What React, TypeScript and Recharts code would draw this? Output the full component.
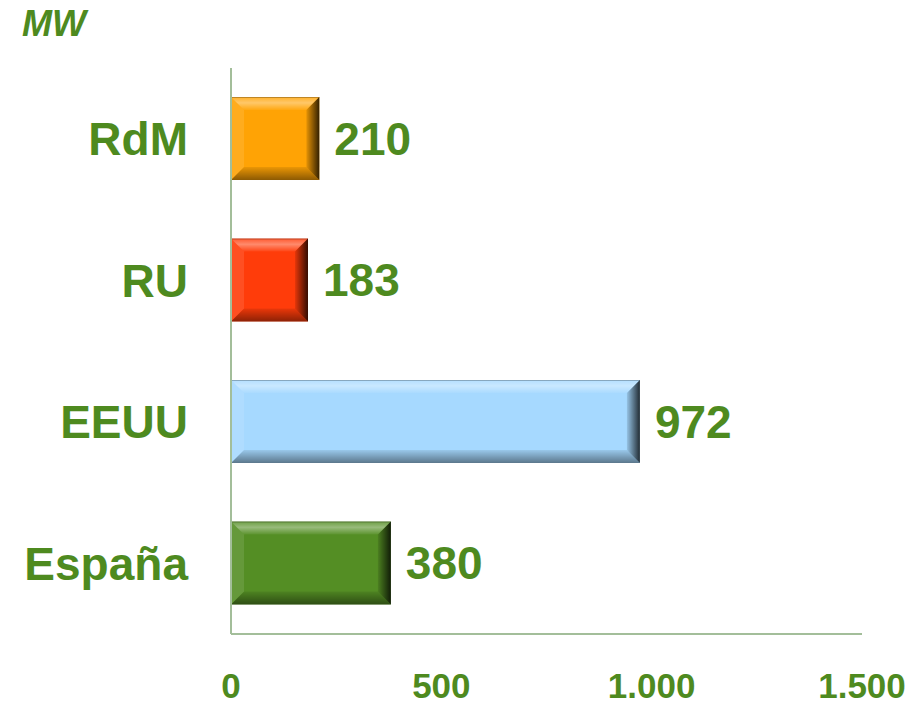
import React from "react";
import { BarChart, Bar, XAxis, YAxis, Cell, LabelList } from "recharts";

const categories = ["RdM", "RU", "EEUU", "España"];
const values = [210, 183, 972, 380];
const xTicks = [0, 500, 1000, 1500];

const barColors = ["#FFA305", "#FF3C0A", "#A6D9FF", "#548E24"];
const green = "#4E8A1F";
const font = '"Liberation Sans", Arial, sans-serif';

const data = categories.map((name, i) => ({ name, value: values[i] }));

const fmt = (v: number) => v.toLocaleString("de-DE");

const BevelBar = (props: any) => {
  const { x, y, width, height, fill } = props;
  if (!width || width <= 0) return null;
  const b = Math.min(13, width / 2, height / 2);
  const r = x + width;
  const btm = y + height;
  return (
    <g>
      <rect x={x} y={y} width={width} height={height} fill={fill} />
      {/* top bevel */}
      <polygon
        points={`${x},${y} ${r},${y} ${r - b},${y + b} ${x + b},${y + b}`}
        fill="url(#bevTop)"
      />
      {/* left bevel */}
      <polygon
        points={`${x},${y} ${x + b},${y + b} ${x + b},${btm - b} ${x},${btm}`}
        fill="#ffffff"
        fillOpacity={0.1}
      />
      {/* bottom bevel */}
      <polygon
        points={`${x},${btm} ${x + b},${btm - b} ${r - b},${btm - b} ${r},${btm}`}
        fill="url(#bevBottom)"
      />
      {/* right bevel */}
      <polygon
        points={`${r},${y} ${r},${btm} ${r - b},${btm - b} ${r - b},${y + b}`}
        fill="url(#bevRight)"
      />
      <line x1={x} y1={y + 0.5} x2={r} y2={y + 0.5} stroke="#000" strokeOpacity={0.25} />
    </g>
  );
};

export default function App() {
  return (
    <div style={{ position: "absolute", left: 0, top: 0, width: 922, height: 705, background: "#fff", fontFamily: font }}>
      <div
        style={{
          position: "absolute",
          left: 22,
          top: 3,
          fontSize: 36,
          fontWeight: "bold",
          fontStyle: "italic",
          color: green,
          lineHeight: "normal",
        }}
      >
        MW
      </div>
      <BarChart
        width={922}
        height={705}
        data={data}
        layout="vertical"
        margin={{ top: 68, right: 60, bottom: 0, left: 0 }}
        barSize={83}
      >
        <defs>
          <linearGradient id="bevTop" x1="0" y1="0" x2="0" y2="1">
            <stop offset="0%" stopColor="#fff" stopOpacity={0.15} />
            <stop offset="45%" stopColor="#fff" stopOpacity={0.4} />
            <stop offset="100%" stopColor="#fff" stopOpacity={0.05} />
          </linearGradient>
          <linearGradient id="bevBottom" x1="0" y1="0" x2="0" y2="1">
            <stop offset="0%" stopColor="#000" stopOpacity={0.08} />
            <stop offset="100%" stopColor="#000" stopOpacity={0.45} />
          </linearGradient>
          <linearGradient id="bevRight" x1="0" y1="0" x2="1" y2="0">
            <stop offset="0%" stopColor="#000" stopOpacity={0.1} />
            <stop offset="100%" stopColor="#000" stopOpacity={0.8} />
          </linearGradient>
        </defs>
        <XAxis
          type="number"
          domain={[0, 1500]}
          ticks={xTicks}
          tickFormatter={fmt}
          axisLine={{ stroke: "#A3BE9A", strokeWidth: 2 }}
          tickLine={false}
          tickSize={0}
          tickMargin={39}
          height={71}
          interval={0}
          tick={{ fill: green, fontSize: 35, fontWeight: "bold", fontFamily: font }}
        />
        <YAxis
          type="category"
          dataKey="name"
          width={231}
          axisLine={{ stroke: "#A3BE9A", strokeWidth: 2 }}
          tickLine={false}
          tickSize={0}
          tickMargin={43}
          tick={{ fill: green, fontSize: 46, fontWeight: "bold", fontFamily: font }}
        />
        <Bar dataKey="value" shape={<BevelBar />} isAnimationActive={false}>
          {data.map((d, i) => (
            <Cell key={d.name} fill={barColors[i]} />
          ))}
          <LabelList
            dataKey="value"
            position="right"
            offset={15}
            formatter={(v: any) => fmt(Number(v))}
            style={{ fill: green, fontSize: 46, fontWeight: "bold", fontFamily: font }}
          />
        </Bar>
      </BarChart>
    </div>
  );
}
